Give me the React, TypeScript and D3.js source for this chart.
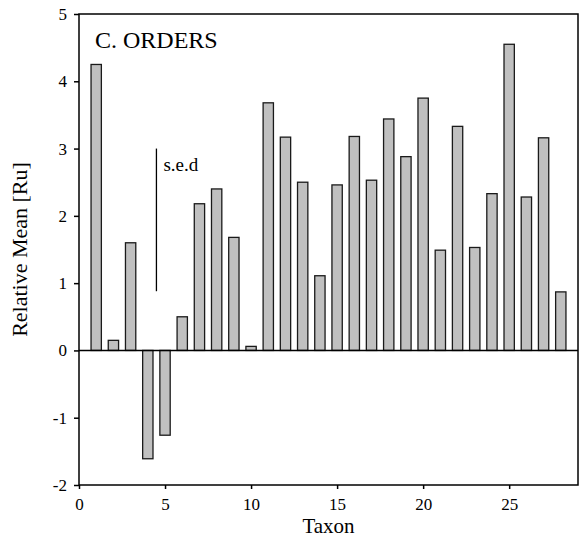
import React, { useRef, useEffect } from 'react'
import * as d3 from 'd3'

// relative mean per taxon (1..28)
const taxa = d3.range(1, 29)
const means = [
  4.25, 0.15, 1.6, -1.61, -1.26, 0.5, 2.18, 2.4, 1.68, 0.06, 3.68, 3.17, 2.5, 1.11,
  2.46, 3.18, 2.53, 3.44, 2.88, 3.75, 1.49, 3.33, 1.53, 2.33, 4.55, 2.28, 3.16, 0.87,
]
const xTicks = [0, 5, 10, 15, 20, 25]
const yTicks = [-2, -1, 0, 1, 2, 3, 4, 5]
// s.e.d bar: x position and span
const sedX = 4.5
const sedRange = [0.88, 3.0]

const width = 583
const height = 547
const margin = { top: 14, right: 5, bottom: 62, left: 79 }
const font = 'Liberation Serif'

export default function App() {
  const ref = useRef<SVGSVGElement>(null)

  useEffect(() => {
    const svg = d3.select(ref.current)
    svg.selectAll('*').remove()

    const x = d3
      .scaleLinear()
      .domain([0, 29])
      .range([margin.left, width - margin.right])
    const y = d3
      .scaleLinear()
      .domain([-2, 5])
      .range([height - margin.bottom, margin.top])
    const barW = x(0.6) - x(0)

    // bars
    svg
      .append('g')
      .selectAll('rect')
      .data(taxa)
      .join('rect')
      .attr('x', (d) => x(d) - barW / 2)
      .attr('y', (d, i) => y(Math.max(0, means[i])))
      .attr('width', barW)
      .attr('height', (d, i) => Math.abs(y(means[i]) - y(0)))
      .attr('fill', '#c0c0c0')
      .attr('stroke', '#1a1a1a')
      .attr('stroke-width', 1.3)

    // zero line
    svg
      .append('line')
      .attr('x1', x(0))
      .attr('x2', x(29))
      .attr('y1', y(0))
      .attr('y2', y(0))
      .attr('stroke', '#000')
      .attr('stroke-width', 1.5)

    // frame
    svg
      .append('rect')
      .attr('x', x(0))
      .attr('y', y(5))
      .attr('width', x(29) - x(0))
      .attr('height', y(-2) - y(5))
      .attr('fill', 'none')
      .attr('stroke', '#000')
      .attr('stroke-width', 1.5)

    // axes
    const xAxis = svg
      .append('g')
      .attr('transform', `translate(0,${y(-2)})`)
      .call(d3.axisBottom(x).tickValues(xTicks).tickSize(4).tickPadding(9).tickFormat((d) => String(d)))
    const yAxis = svg
      .append('g')
      .attr('transform', `translate(${x(0)},0)`)
      .call(d3.axisLeft(y).tickValues(yTicks).tickSize(5).tickPadding(7).tickFormat((d) => String(d)))
    for (const ax of [xAxis, yAxis]) {
      ax.attr('font-family', font).attr('font-size', 17)
      ax.select('.domain').remove()
      ax.selectAll('line').attr('stroke', '#000').attr('stroke-width', 1.5)
      ax.selectAll('text').attr('fill', '#000')
    }

    // s.e.d marker
    svg
      .append('line')
      .attr('x1', x(sedX))
      .attr('x2', x(sedX))
      .attr('y1', y(sedRange[0]))
      .attr('y2', y(sedRange[1]))
      .attr('stroke', '#000')
      .attr('stroke-width', 1.3)
    svg
      .append('text')
      .attr('x', x(sedX) + 7)
      .attr('y', y(2.67))
      .attr('font-size', 19)
      .text('s.e.d')

    // panel label
    svg
      .append('text')
      .attr('x', 95)
      .attr('y', 48)
      .attr('font-size', 24)
      .text('C. ORDERS')

    // axis titles
    svg
      .append('text')
      .attr('x', x(14.5))
      .attr('y', 533)
      .attr('text-anchor', 'middle')
      .attr('font-size', 21)
      .text('Taxon')
    svg
      .append('text')
      .attr('transform', `translate(27,${y(1.5)}) rotate(-90)`)
      .attr('text-anchor', 'middle')
      .attr('font-size', 22)
      .text('Relative Mean [Ru]')
  }, [])

  return (
    <svg
      ref={ref}
      width={width}
      height={height}
      fontFamily={font}
      style={{ position: 'absolute', left: 0, top: 0, background: '#fff' }}
    />
  )
}
